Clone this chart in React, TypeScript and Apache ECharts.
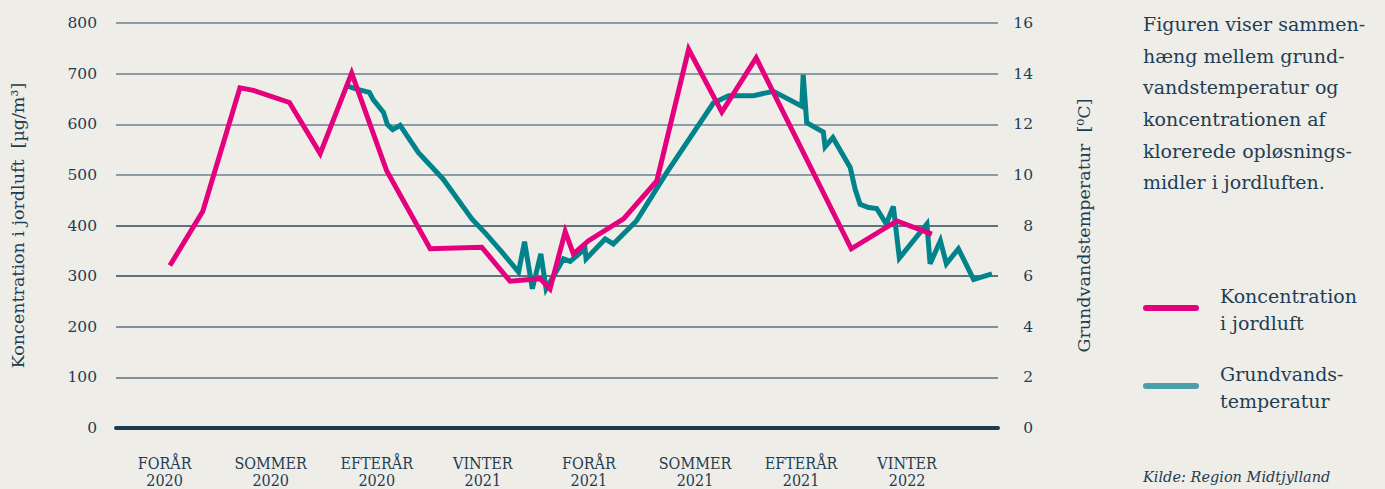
import React, { useEffect, useRef } from "react";
import * as echarts from "echarts";

// x values: months since 1 Jan 2020 (season labels centred mid-season)
const seasonMonths = [3.5, 6.5, 9.5, 12.5, 15.5, 18.5, 21.5, 24.5];
const seasonLabels = [
  "FORÅR\n2020",
  "SOMMER\n2020",
  "EFTERÅR\n2020",
  "VINTER\n2021",
  "FORÅR\n2021",
  "SOMMER\n2021",
  "EFTERÅR\n2021",
  "VINTER\n2022",
];

const concMonths = [
  3.65, 4.58, 5.63, 6.01, 7.03, 7.9, 8.79, 9.78, 11.01, 12.47, 13.27, 14.12, 14.4,
  14.83, 15.06, 15.49, 16.48, 17.42, 18.32, 19.26, 20.23, 22.92, 24.21, 25.2,
];
const concValues = [
  321, 428, 672, 667, 643, 542, 701, 508, 354, 357, 290, 295, 275, 388, 344, 370,
  413, 488, 748, 624, 731, 354, 409, 383,
];

const tempMonths = [
  8.7, 8.93, 9.29, 9.4, 9.69, 9.8, 9.95, 10.16, 10.68, 11.38, 12.19, 12.59, 13.04,
  13.51, 13.68, 13.9, 14.14, 14.29, 14.78, 14.97, 15.39, 15.42, 15.96, 16.19, 16.85,
  17.7, 19.02, 19.45, 20.15, 20.72, 21.52, 21.56, 21.66, 22.13, 22.18, 22.4, 22.89,
  23.03, 23.17, 23.41, 23.64, 23.91, 24.11, 24.28, 25.06, 25.15, 25.44, 25.61, 25.95,
  26.38, 26.9,
];
const tempValues = [
  13.5, 13.39, 13.26, 12.97, 12.47, 11.99, 11.79, 11.96, 10.88, 9.83, 8.26, 7.67, 6.95,
  6.16, 7.36, 5.5, 6.88, 5.5, 6.68, 6.58, 7.08, 6.68, 7.47, 7.27, 8.19, 10.09, 12.84,
  13.13, 13.13, 13.3, 12.71, 13.96, 12.06, 11.69, 11.11, 11.47, 10.29, 9.43, 8.84,
  8.71, 8.67, 8.06, 8.75, 6.71, 8.06, 6.49, 7.4, 6.49, 7.08, 5.87, 6.09,
];

const leftTicks = [0, 100, 200, 300, 400, 500, 600, 700, 800];
const rightTicks = [0, 2, 4, 6, 8, 10, 12, 14, 16];

const descText =
  "Figuren viser sammen-\nhæng mellem grund-\nvandstemperatur og\nkoncentrationen af\nklorerede opløsnings-\nmidler i jordluften.";
const legendConc = "Koncentration\ni jordluft";
const legendTemp = "Grundvands-\ntemperatur";
const sourceText = "Kilde: Region Midtjylland";

const PINK = "#e5007e";
const TEAL = "#00838a";
const TEAL_LEGEND = "#4c9ea8";
const INK = "#1f3d52";
const BG = "#efede8";
const SERIF = "'DejaVu Serif', serif";

export default function App() {
  const ref = useRef<HTMLDivElement>(null);
  useEffect(() => {
    if (!ref.current) return;
    const chart = echarts.init(ref.current, null, { renderer: "svg" });
    const gridColors = [
      "#1d3b50",
      "#5a7080",
      "#5a7080",
      "#2c4a5e",
      "#2c4a5e",
      "#6d818e",
      "#6d818e",
      "#6d818e",
      "#6d818e",
    ];
    chart.setOption({
      animation: false,
      backgroundColor: BG,
      grid: { left: 116, right: 387, top: 23, bottom: 59, containLabel: false },
      xAxis: {
        type: "value",
        min: 2.125,
        max: 27.07,
        axisLine: { show: true, onZero: false, lineStyle: { color: "#1d3b50", width: 4 } },
        axisTick: { show: false },
        splitLine: { show: false },
        axisLabel: {
          customValues: seasonMonths,
          formatter: (v: number) => {
            const i = seasonMonths.findIndex((m) => Math.abs(m - v) < 1e-6);
            return i >= 0 ? seasonLabels[i] : "";
          },
          margin: 27,
          color: INK,
          fontFamily: "'DejaVu Serif Condensed', 'DejaVu Serif', serif",
          fontSize: 16,
          lineHeight: 17,
        },
      },
      yAxis: [
        {
          type: "value",
          min: leftTicks[0],
          max: leftTicks[leftTicks.length - 1],
          interval: 100,
          position: "left",
          name: "Koncentration i jordluft  [µg/m³]",
          nameLocation: "middle",
          nameGap: 89,
          nameRotate: 90,
          nameTextStyle: { color: INK, fontFamily: SERIF, fontSize: 17.5 },
          axisLine: { show: false },
          axisTick: { show: false },
          axisLabel: { color: INK, fontFamily: SERIF, fontSize: 15.5, margin: 19 },
          splitLine: { show: true, lineStyle: { color: gridColors, width: 1.5 } },
        },
        {
          type: "value",
          min: rightTicks[0],
          max: rightTicks[rightTicks.length - 1],
          interval: 2,
          position: "right",
          name: "Grundvandstemperatur  [⁰C]",
          nameLocation: "middle",
          nameGap: 77,
          nameRotate: 90,
          nameTextStyle: { color: INK, fontFamily: SERIF, fontSize: 17.5 },
          axisLine: { show: false },
          axisTick: { show: false },
          axisLabel: { color: INK, fontFamily: SERIF, fontSize: 15.5, margin: 35, align: "right" },
          splitLine: { show: false },
        },
      ],
      series: [
        {
          name: "Grundvandstemperatur",
          type: "line",
          yAxisIndex: 1,
          data: tempMonths.map((m, i) => [m, tempValues[i]]),
          symbol: "none",
          smooth: false,
          lineStyle: { color: TEAL, width: 5, join: "miter" },
          z: 3,
        },
        {
          name: "Koncentration i jordluft",
          type: "line",
          yAxisIndex: 0,
          data: concMonths.map((m, i) => [m, concValues[i]]),
          symbol: "none",
          smooth: false,
          lineStyle: { color: PINK, width: 5, join: "miter" },
          z: 4,
        },
      ],
      graphic: [
        {
          type: "text",
          left: 1143,
          top: 8,
          style: {
            text: descText,
            fill: INK,
            fontFamily: SERIF,
            fontSize: 19,
            lineHeight: 31.7,
          },
        },
        {
          type: "line",
          shape: { x1: 1146, y1: 308, x2: 1196, y2: 308 },
          style: { stroke: PINK, lineWidth: 6, lineCap: "round" },
        },
        {
          type: "text",
          left: 1220,
          top: 282,
          style: { text: legendConc, fill: INK, fontFamily: SERIF, fontSize: 19, lineHeight: 27 },
        },
        {
          type: "line",
          shape: { x1: 1146, y1: 386, x2: 1196, y2: 386 },
          style: { stroke: TEAL_LEGEND, lineWidth: 6, lineCap: "round" },
        },
        {
          type: "text",
          left: 1220,
          top: 360,
          style: { text: legendTemp, fill: INK, fontFamily: SERIF, fontSize: 19, lineHeight: 27 },
        },
        {
          type: "text",
          left: 1143,
          top: 469,
          style: {
            text: sourceText,
            fill: INK,
            fontFamily: SERIF,
            fontStyle: "italic",
            fontSize: 14.5,
          },
        },
      ],
    });
    return () => chart.dispose();
  }, []);
  return (
    <div
      ref={ref}
      style={{ position: "fixed", left: 0, top: 0, width: 1385, height: 489, background: BG }}
    />
  );
}
